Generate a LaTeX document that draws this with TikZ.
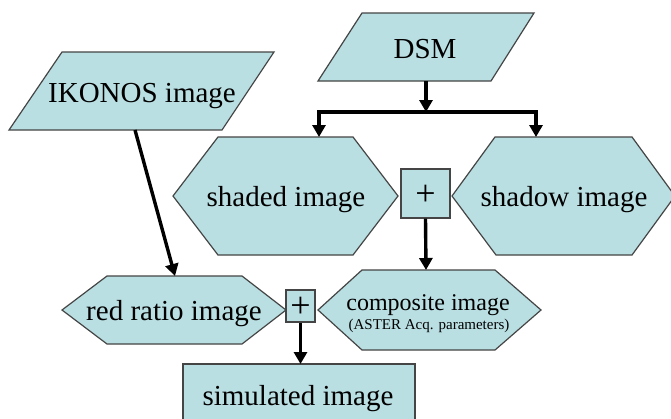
\documentclass[tikz,border=0pt]{standalone}
\usepackage{fontspec}
\setmainfont{Liberation Serif}
\usetikzlibrary{arrows.meta}
\definecolor{boxfill}{HTML}{B9DFE3}
\definecolor{boxedge}{HTML}{454545}
\tikzset{
  shapebox/.style={fill=boxfill, draw=boxedge, line width=1.2pt, line join=miter},
  bigtext/.style={font=\fontsize{29}{34}\selectfont, anchor=base, inner sep=0pt},
  plustext/.style={font=\fontsize{36}{38}\selectfont},
  conn/.style={line width=3.4pt, draw=black},
  tip/.style={-{Triangle[length=12pt,width=13pt]}},
}
\begin{document}
\begin{tikzpicture}[x=1pt,y=-1pt]
\useasboundingbox (0,0) rectangle (671,418);
\clip (0,0) rectangle (671,418);
\fill[white] (0,0) rectangle (671,418);

% IKONOS image (parallelogram)
\path[shapebox] (62,52) -- (274,52) -- (222,130) -- (9,130) -- cycle;
\node[bigtext] (ikonos) at (142,102) {IKONOS image};
\coordinate (ikbot) at (135,130);

% DSM (parallelogram)
\path[shapebox] (362,13) -- (534,13) -- (491,81) -- (318,81) -- cycle;
\node[bigtext] (dsm) at (425,58) {DSM};
\coordinate (dsmbot) at (426,81);
\coordinate (barmid) at (426,112);
\coordinate (barl) at (319,112);
\coordinate (barr) at (536,112);

% shaded image (hexagon)
\path[shapebox] (173,196) -- (218,137) -- (353,137) -- (398,196) -- (353,255) -- (218,255) -- cycle;
\node[bigtext] (shaded) at (286,206) {shaded image};
\coordinate (shadedtop) at (319,137);

% shadow image (hexagon)
\path[shapebox] (452,196) -- (495,137) -- (632,137) -- (675,196) -- (632,255) -- (496,255) -- cycle;
\node[bigtext] (shadow) at (564,206) {shadow image};
\coordinate (shadowtop) at (536,137);

% plus box (top)
\node[shapebox, minimum width=49pt, minimum height=49pt, inner sep=0pt] (plusA) at (425.5,193.5) {};
\node[plustext, inner sep=0pt] (plusAt) at (425.5,195) {+};

% composite image (hexagon)
\path[shapebox] (318,310) -- (362,270) -- (495,270) -- (541,310) -- (495,350) -- (362,350) -- cycle;
\node[anchor=base, inner sep=0pt, font=\fontsize{24}{28}\selectfont] (comp) at (428,310) {composite image};
\node[anchor=base, inner sep=0pt, font=\fontsize{15}{18}\selectfont] (compsub) at (429,329) {(ASTER Acq. parameters)};
\coordinate (comptop) at (426,270);

% red ratio image (hexagon)
\path[shapebox] (62,310) -- (107,276) -- (242,276) -- (286,310) -- (242,344) -- (107,344) -- cycle;
\node[bigtext] (red) at (174,320) {red ratio image};
\coordinate (redtop) at (175,276);

% plus box (bottom)
\node[shapebox, minimum width=29pt, minimum height=32pt, inner sep=0pt] (plusB) at (300.5,306) {};
\node[plustext, inner sep=0pt] (plusBt) at (300.5,307.5) {+};

% simulated image (rectangle)
\path[shapebox] (183,364) rectangle (415,430);
\node[bigtext] (sim) at (298,405) {simulated image};
\coordinate (simtop) at (300.5,364);

% connectors
\draw[conn,tip] (dsmbot) -- (barmid);
\draw[conn,{Triangle[length=12pt,width=13pt]}-{Triangle[length=12pt,width=13pt]}, line join=miter]
  (shadedtop) -- (barl) -- (barr) -- (shadowtop);
\draw[conn,tip] (ikbot) -- (redtop);
\draw[conn,tip] (plusA.south) -- (comptop);
\draw[conn,tip] (plusB.south) -- (simtop);
\end{tikzpicture}
\end{document}
